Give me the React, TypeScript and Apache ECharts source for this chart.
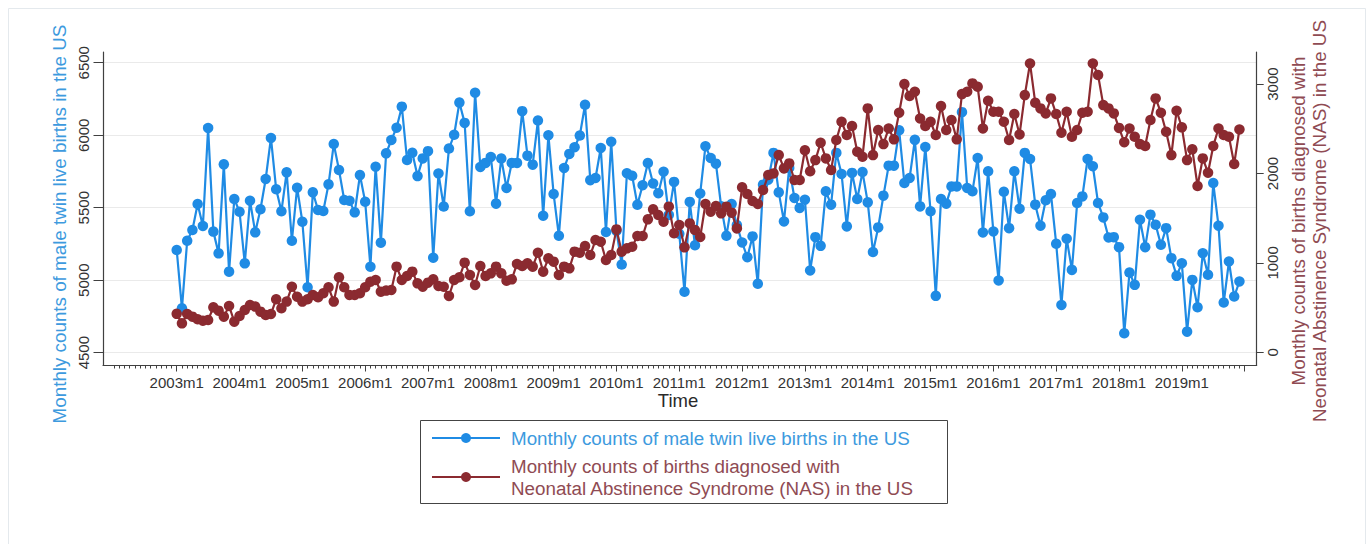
import React, { useEffect, useRef } from "react";
import * as echarts from "echarts";

// ---------- data ----------
const START_YEAR = 2003;

// Monthly counts of male twin live births in the US, 2003m1 .. 2019m12
const twinBirths = [
  5208, 4806, 5272, 5346, 5525, 5374, 6050, 5335, 5185, 5799, 5059, 5560,
  5472, 5116, 5548, 5330, 5489, 5698, 5981, 5627, 5475, 5744, 5272, 5638,
  5403, 4951, 5606, 5484, 5477, 5661, 5939, 5760, 5553, 5548, 5468, 5725,
  5541, 5093, 5783, 5259, 5875, 5967, 6052, 6197, 5829, 5879, 5718, 5840,
  5890, 5155, 5736, 5508, 5908, 6003, 6225, 6085, 5475, 6293, 5781, 5809,
  5850, 5528, 5839, 5636, 5809, 5809, 6166, 5859, 5797, 6101, 5445, 6000,
  5594, 5306, 5774, 5871, 5917, 5998, 6210, 5690, 5705, 5912, 5332, 5955,
  5340, 5108, 5738, 5720, 5520, 5655, 5808, 5667, 5600, 5748, 5450, 5678,
  5320, 4920, 5540, 5241, 5598, 5924, 5843, 5804, 5510, 5306, 5525, 5380,
  5260, 5159, 5302, 4975, 5659, 5693, 5878, 5606, 5405, 5774, 5567, 5498,
  5555, 5067, 5297, 5237, 5613, 5521, 5878, 5733, 5371, 5740, 5560, 5746,
  5537, 5194, 5364, 5583, 5790, 5790, 6034, 5670, 5705, 5968, 5509, 5919,
  5475, 4892, 5560, 5528, 5647, 5647, 6159, 5636, 5613, 5843, 5329, 5751,
  5336, 4998, 5610, 5359, 5751, 5493, 5878, 5836, 5521, 5376, 5551, 5594,
  5251, 4829, 5286, 5071, 5532, 5578, 5836, 5786, 5532, 5433, 5295, 5297,
  5228, 4634, 5053, 4968, 5417, 5228, 5452, 5382, 5244, 5359, 5152, 5030,
  5117, 4645, 5002, 4813, 5186, 5037, 5670, 5376, 4846, 5129, 4887, 4991,
];

// Monthly counts of births diagnosed with NAS in the US, 2003m1 .. 2019m12
const nasBirths = [
  430, 324, 429, 399, 369, 354, 361, 503, 466, 399, 518, 343,
  406, 473, 529, 511, 455, 417, 429, 593, 492, 567, 734, 622,
  567, 593, 641, 615, 660, 727, 567, 839, 727, 641, 641, 660,
  727, 790, 809, 678, 690, 697, 958, 809, 853, 902, 771, 734,
  779, 816, 742, 734, 630, 809, 839, 1003, 865, 753, 965, 853,
  883, 958, 883, 801, 816, 988, 965, 995, 958, 1114, 902, 1051,
  1014, 865, 958, 939, 1126, 1114, 1189, 1088, 1256, 1237, 1032, 1088,
  1375, 1126, 1163, 1181, 1301, 1301, 1487, 1599, 1535, 1461, 1629, 1331,
  1424, 1174, 1442, 1368, 1290, 1659, 1573, 1636, 1554, 1629, 1562, 1386,
  1845, 1770, 1692, 1659, 1815, 1983, 2001, 2206, 2057, 2113, 1927, 1927,
  2260, 2025, 2150, 2344, 2169, 2039, 2374, 2579, 2430, 2531, 2244, 2188,
  2728, 2206, 2486, 2329, 2504, 2382, 2680, 3000, 2866, 2915, 2616, 2531,
  2579, 2430, 2754, 2486, 2598, 2382, 2888, 2915, 3008, 2970, 2504, 2814,
  2691, 2691, 2579, 2374, 2665, 2437, 2877, 3231, 2791, 2728, 2672, 2840,
  2665, 2456, 2691, 2411, 2486, 2680, 2691, 3231, 3101, 2765, 2728, 2672,
  2510, 2350, 2504, 2411, 2329, 2307, 2598, 2840, 2680, 2467, 2206, 2702,
  2516, 2150, 2270, 1860, 2169, 2009, 2307, 2504, 2430, 2411, 2106, 2493,
];

// tick positions (months since 2003m1)
const yearLabelMonths = [0, 12, 24, 36, 48, 60, 72, 84, 96, 108, 120, 132, 144, 156, 168, 180, 192];
const yearTickMonths = [...yearLabelMonths, 204];
const monthTickMonths = Array.from({ length: 217 }, (_, i) => i - 12);
const leftTicks = [4500, 5000, 5500, 6000, 6500];
const rightTicks = [0, 1000, 2000, 3000];

const twinName = "Monthly counts of male twin live births in the US";
const nasName = "Monthly counts of births diagnosed with\nNeonatal Abstinence Syndrome (NAS) in the US";
const xTitle = "Time";

// ---------- style ----------
const FONT = "'Liberation Sans', Arial, Helvetica, sans-serif";
const BLUE = "#1f8be4";
const MAROON = "#8b2a30";
const BLUE_TEXT = "#3d9ade";
const MAROON_TEXT = "#8f4b53";
const AXIS = "#404040";
const LABEL = "#333333";

const monthLabel = (v: number) => `${START_YEAR + Math.floor(v / 12)}m${(v % 12) + 1}`;

export default function App() {
  const ref = useRef<HTMLDivElement>(null);

  useEffect(() => {
    if (!ref.current) return;
    const chart = echarts.init(ref.current, null, { renderer: "svg" });

    const option: any = {
      animation: false,
      backgroundColor: "#ffffff",
      grid: { left: 103, top: 52, width: 1153.7, height: 313, containLabel: false },
      xAxis: [
        {
          type: "value",
          position: "bottom",
          min: -14.08,
          max: 206.3,
          axisLine: { show: true, onZero: false, lineStyle: { color: AXIS, width: 1.2 } },
          axisTick: { show: true, customValues: yearTickMonths, length: 6.5, lineStyle: { color: AXIS, width: 1 } },
          axisLabel: {
            show: true,
            customValues: yearLabelMonths,
            formatter: (v: number) => monthLabel(v),
            fontSize: 15,
            fontFamily: FONT,
            color: LABEL,
            margin: 10,
          },
          splitLine: { show: false },
        },
        {
          type: "value",
          position: "bottom",
          min: -14.08,
          max: 206.3,
          axisLine: { show: false, onZero: false },
          axisTick: { show: true, customValues: monthTickMonths, length: 3.5, lineStyle: { color: AXIS, width: 1 } },
          axisLabel: { show: false },
          splitLine: { show: false },
        },
      ],
      yAxis: [
        {
          type: "value",
          position: "left",
          min: 4415,
          max: 6574,
          axisLine: { show: true, onZero: false, lineStyle: { color: AXIS, width: 1.2 } },
          axisTick: { show: true, customValues: leftTicks, length: 9.5, lineStyle: { color: AXIS, width: 1 } },
          axisLabel: {
            show: true,
            customValues: leftTicks,
            formatter: (v: number) => String(v),
            rotate: 90,
            fontSize: 15,
            fontFamily: FONT,
            color: LABEL,
            margin: 12,
          },
          splitLine: { show: true, lineStyle: { color: "#eaeaea", width: 1.2 } },
        },
        {
          type: "value",
          position: "right",
          min: -142,
          max: 3359,
          axisLine: { show: true, onZero: false, lineStyle: { color: AXIS, width: 1.2 } },
          axisTick: { show: true, customValues: rightTicks, length: 7, lineStyle: { color: AXIS, width: 1 } },
          axisLabel: {
            show: true,
            customValues: rightTicks,
            formatter: (v: number) => String(v),
            rotate: 90,
            fontSize: 15,
            fontFamily: FONT,
            color: LABEL,
            margin: 8,
          },
          splitLine: { show: false },
        },
      ],
      series: [
        {
          name: "twin",
          type: "line",
          xAxisIndex: 0,
          yAxisIndex: 0,
          data: twinBirths.map((v, i) => [i, v]),
          symbol: "circle",
          symbolSize: 10.5,
          showAllSymbol: true,
          lineStyle: { color: BLUE, width: 2.2 },
          itemStyle: { color: BLUE },
          emphasis: { disabled: true },
          z: 3,
        },
        {
          name: "nas",
          type: "line",
          xAxisIndex: 0,
          yAxisIndex: 1,
          data: nasBirths.map((v, i) => [i, v]),
          symbol: "circle",
          symbolSize: 10.5,
          showAllSymbol: true,
          lineStyle: { color: MAROON, width: 2.2 },
          itemStyle: { color: MAROON },
          emphasis: { disabled: true },
          z: 4,
        },
      ],
      graphic: [
        {
          type: "rect",
          z: -10,
          shape: { x: 8.5, y: 8.5, width: 1357, height: 545 },
          style: { fill: "none", stroke: "#e4e9ed", lineWidth: 1 },
          silent: true,
        },
        {
          type: "text",
          x: 59,
          y: 224,
          rotation: Math.PI / 2,
          style: {
            text: twinName,
            fill: BLUE_TEXT,
            font: `18.8px ${FONT}`,
            align: "center",
            verticalAlign: "middle",
          },
        },
        {
          type: "text",
          x: 1309,
          y: 221,
          rotation: Math.PI / 2,
          style: {
            text: nasName,
            fill: MAROON_TEXT,
            font: `18.8px ${FONT}`,
            lineHeight: 21,
            align: "center",
            verticalAlign: "middle",
          },
        },
        {
          type: "text",
          x: 678,
          y: 400,
          style: {
            text: xTitle,
            fill: "#2a2a2a",
            font: `18.5px ${FONT}`,
            align: "center",
            verticalAlign: "middle",
          },
        },
        // legend
        {
          type: "rect",
          shape: { x: 420.5, y: 420.5, width: 527, height: 83 },
          style: { fill: "#ffffff", stroke: "#444444", lineWidth: 1 },
        },
        {
          type: "line",
          shape: { x1: 432, y1: 438, x2: 500, y2: 438 },
          style: { stroke: BLUE, lineWidth: 2.2 },
        },
        { type: "circle", shape: { cx: 466, cy: 438, r: 5 }, style: { fill: BLUE } },
        {
          type: "text",
          x: 511,
          y: 438,
          style: { text: twinName, fill: BLUE_TEXT, font: `18.8px ${FONT}`, align: "left", verticalAlign: "middle" },
        },
        {
          type: "line",
          shape: { x1: 432, y1: 477, x2: 500, y2: 477 },
          style: { stroke: MAROON, lineWidth: 2.2 },
        },
        { type: "circle", shape: { cx: 466, cy: 477, r: 5 }, style: { fill: MAROON } },
        {
          type: "text",
          x: 511,
          y: 477,
          style: {
            text: nasName,
            fill: MAROON_TEXT,
            font: `18.8px ${FONT}`,
            lineHeight: 22,
            align: "left",
            verticalAlign: "middle",
          },
        },
      ],
    };

    chart.setOption(option);
    return () => chart.dispose();
  }, []);

  return (
    <div
      ref={ref}
      style={{ position: "fixed", left: 0, top: 0, width: 1372, height: 544, background: "#fff" }}
    />
  );
}
